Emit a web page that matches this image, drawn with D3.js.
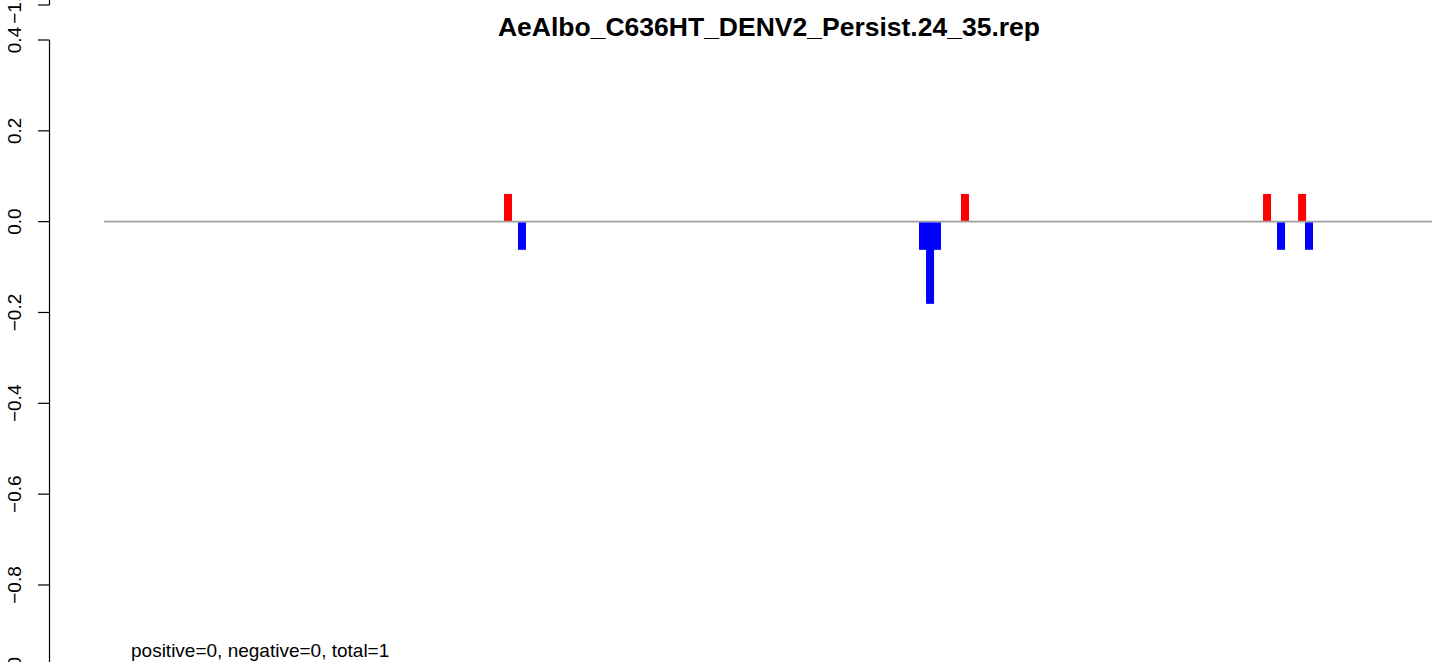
<!DOCTYPE html>
<html>
<head>
<meta charset="utf-8">
<script src="https://d3js.org/d3.v7.min.js"></script>
<style>
  html, body { margin: 0; padding: 0; background: #ffffff; }
  svg { display: block; }
  text { font-family: "Liberation Sans", Arial, Helvetica, sans-serif; fill: #000; }
</style>
</head>
<body>
<script>
// ---- data ----
const title = "AeAlbo_C636HT_DENV2_Persist.24_35.rep";
const footer = "positive=0, negative=0, total=1";
const genomeLength = 10723;
const positivePos = [3262, 6952, 9391, 9674];
const positiveVal = [0.061, 0.061, 0.061, 0.061];
const negativePos = [3375, 6613, 6670, 6726, 9504, 9730];
const negativeVal = [-0.062, -0.062, -0.181, -0.062, -0.062, -0.062];
const yTicks = [0.4, 0.2, 0.0, -0.2, -0.4, -0.6, -0.8, -1.0];
const yDomain = [-1.0, 0.4];
const prevPanelTicks = [-1.0];

// ---- layout ----
const W = 1444, H = 662;
const svg = d3.select("body").append("svg").attr("width", W).attr("height", H);

const x = d3.scaleLinear().domain([0, genomeLength]).range([104, 1432]);
const y = d3.scaleLinear().domain(yDomain).range([675.8, 40]);
const panelH = 670.8;
const yPrev = d3.scaleLinear().domain(yDomain).range([675.8 - panelH, 40 - panelH]);

const fmt = v => (v < 0 ? "\u2212" : "") + Math.abs(v).toFixed(1);
const axisX = 49.5;
const labelFont = 19;

function drawTicks(g, scale, ticks) {
  ticks.forEach(t => {
    g.append("line").attr("x1", axisX).attr("x2", 38)
      .attr("y1", scale(t)).attr("y2", scale(t))
      .attr("stroke", "#000").attr("stroke-width", 1.2);
    g.append("text")
      .attr("transform", `translate(20.5,${scale(t)}) rotate(-90)`)
      .attr("text-anchor", "middle")
      .attr("font-size", labelFont)
      .text(fmt(t));
  });
}

// main y axis
const gA = svg.append("g");
gA.append("line").attr("x1", axisX).attr("x2", axisX)
  .attr("y1", y(d3.min(yTicks))).attr("y2", y(d3.max(yTicks)))
  .attr("stroke", "#000").attr("stroke-width", 1.2);
drawTicks(gA, y, yTicks);

// tail of the panel above
const gP = svg.append("g");
gP.append("line").attr("x1", axisX).attr("x2", axisX)
  .attr("y1", yPrev(-1.0)).attr("y2", yPrev(-0.8))
  .attr("stroke", "#000").attr("stroke-width", 1.2);
drawTicks(gP, yPrev, prevPanelTicks);

// baseline
svg.append("line")
  .attr("x1", x(0)).attr("x2", x(genomeLength))
  .attr("y1", y(0)).attr("y2", y(0))
  .attr("stroke", "#a0a0a0").attr("stroke-width", 1.6);

const barW = 8;
svg.append("g").selectAll("rect").data(positivePos.map((p, i) => ({p, v: positiveVal[i]})))
  .join("rect")
  .attr("x", d => x(d.p) - barW / 2).attr("width", barW)
  .attr("y", d => y(d.v)).attr("height", d => y(0) - y(d.v) - 0.8)
  .attr("fill", "#ff0000");
svg.append("g").selectAll("rect").data(negativePos.map((p, i) => ({p, v: negativeVal[i]})))
  .join("rect")
  .attr("x", d => x(d.p) - barW / 2).attr("width", barW)
  .attr("y", y(0) + 0.8).attr("height", d => y(d.v) - y(0) - 0.8)
  .attr("fill", "#0000ff");

// title
svg.append("text")
  .attr("x", 769).attr("y", 36)
  .attr("text-anchor", "middle")
  .attr("font-size", 26.5).attr("font-weight", "bold")
  .text(title);

// footer
svg.append("text")
  .attr("x", 131).attr("y", 657)
  .attr("text-anchor", "start")
  .attr("font-size", 19)
  .text(footer);
</script>
</body>
</html>
